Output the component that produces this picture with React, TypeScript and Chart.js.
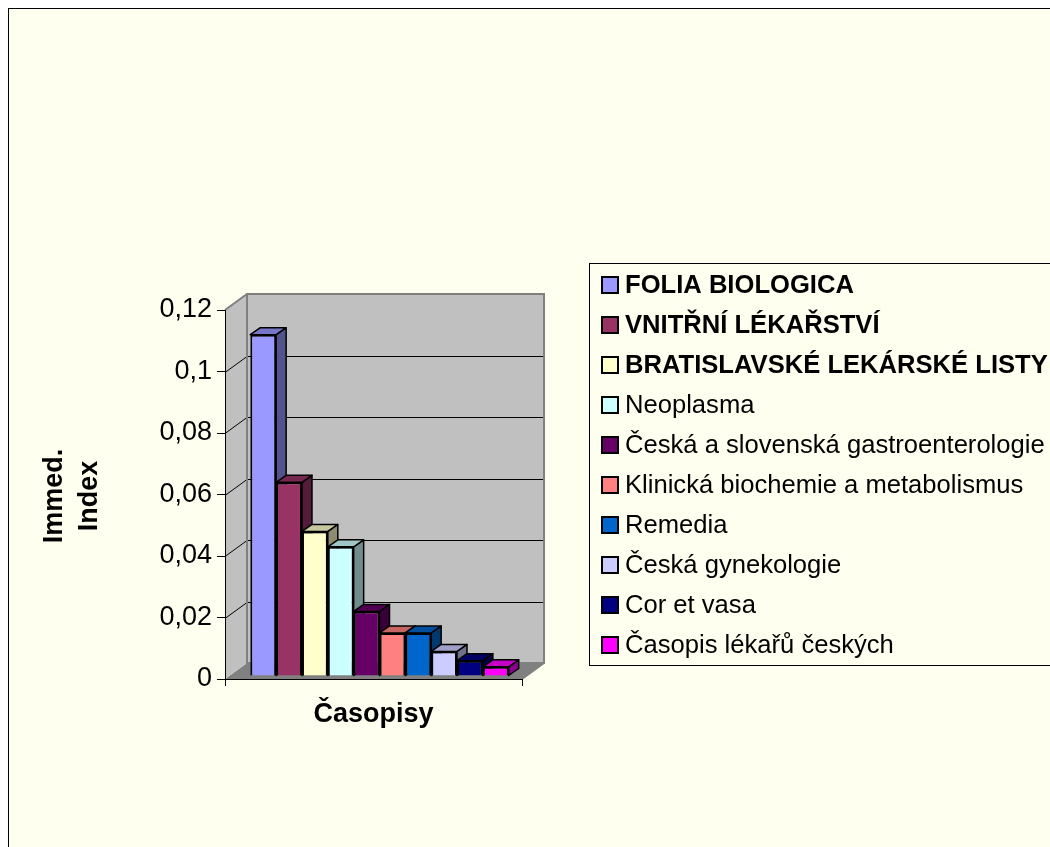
import React, { useEffect, useRef } from 'react';
import { Chart, registerables } from 'chart.js';

Chart.register(...registerables);

// ---------- data ----------
const categories = ['Časopisy'];
const journals = [
  'FOLIA BIOLOGICA',
  'VNITŘNÍ LÉKAŘSTVÍ',
  'BRATISLAVSKÉ LEKÁRSKÉ LISTY',
  'Neoplasma',
  'Česká a slovenská gastroenterologie',
  'Klinická biochemie a metabolismus',
  'Remedia',
  'Česká gynekologie',
  'Cor et vasa',
  'Časopis lékařů českých',
];
const immedIndex = [0.111, 0.063, 0.047, 0.042, 0.021, 0.014, 0.014, 0.008, 0.005, 0.003];
const boldInLegend = [true, true, true, false, false, false, false, false, false, false];
const colors = ['#9999FF', '#993366', '#FFFFCC', '#CCFFFF', '#660066', '#FF8080', '#0066CC', '#CCCCFF', '#000080', '#FF00FF'];
const yMin = 0;
const yMax = 0.12;
const yStep = 0.02;
const yTitle = ['Immed.', 'Index'];
const xTitle = 'Časopisy';

// ---------- styling ----------
const FONT = "'Liberation Sans', Arial, sans-serif";
const W = 1041;
const H = 838;
const WALL = { dx: 22, dy: -16 };
const BAR_DEPTH = { dx: 10, dy: -7 };
const BAR_SHIFT = { dx: 6, dy: -3 };

function shade(hex: string, f: number) {
  const n = parseInt(hex.slice(1), 16);
  const r = Math.round(((n >> 16) & 255) * f);
  const g = Math.round(((n >> 8) & 255) * f);
  const b = Math.round((n & 255) * f);
  return `rgb(${r},${g},${b})`;
}

const fmt = (v: number) => String(Math.round(v * 100) / 100).replace('.', ',');

const threeD = {
  id: 'threeD',
  beforeDraw(chart: any) {
    const { ctx, chartArea: a, scales } = chart;
    const y = scales.y;
    const { dx, dy } = WALL;
    ctx.save();
    // floor
    ctx.fillStyle = '#808080';
    ctx.beginPath();
    ctx.moveTo(a.left, a.bottom);
    ctx.lineTo(a.left + dx, a.bottom + dy);
    ctx.lineTo(a.right + dx, a.bottom + dy);
    ctx.lineTo(a.right, a.bottom);
    ctx.closePath();
    ctx.fill();
    // left wall
    ctx.fillStyle = '#C0C0C0';
    ctx.beginPath();
    ctx.moveTo(a.left, a.bottom);
    ctx.lineTo(a.left, a.top);
    ctx.lineTo(a.left + dx, a.top + dy);
    ctx.lineTo(a.left + dx, a.bottom + dy);
    ctx.closePath();
    ctx.fill();
    // back wall
    ctx.fillRect(a.left + dx, a.top + dy, a.right - a.left, a.bottom - a.top);
    // gridlines
    ctx.strokeStyle = '#000';
    ctx.lineWidth = 1;
    y.ticks.forEach((t: any) => {
      if (t.value <= yMin || t.value >= yMax) return;
      const py = Math.round(y.getPixelForValue(t.value)) + 0.5;
      ctx.beginPath();
      ctx.moveTo(a.left, py);
      ctx.lineTo(a.left + dx, py + dy);
      ctx.lineTo(a.right + dx, py + dy);
      ctx.stroke();
    });
    // wall edges
    ctx.strokeStyle = '#808080';
    ctx.lineWidth = 2;
    ctx.strokeRect(a.left + dx, a.top + dy, a.right - a.left, a.bottom - a.top);
    ctx.beginPath();
    ctx.moveTo(a.left, a.top);
    ctx.lineTo(a.left + dx, a.top + dy);
    ctx.stroke();
    ctx.beginPath();
    ctx.moveTo(a.right, a.bottom);
    ctx.lineTo(a.right + dx, a.bottom + dy);
    ctx.stroke();
    ctx.restore();
  },
  beforeDatasetsDraw(chart: any) {
    const { ctx } = chart;
    const { dx, dy } = BAR_DEPTH;
    ctx.save();
    ctx.translate(BAR_SHIFT.dx, BAR_SHIFT.dy);
    chart.data.datasets.forEach((ds: any, i: number) => {
      const el = chart.getDatasetMeta(i).data[0];
      if (!el) return;
      const { x, y, base, width } = el;
      const l = x - width / 2;
      const r = x + width / 2;
      const c = ds.backgroundColor as string;
      ctx.lineWidth = 1.5;
      ctx.strokeStyle = '#000';
      ctx.lineJoin = 'round';
      // side face
      ctx.fillStyle = shade(c, 0.55);
      ctx.beginPath();
      ctx.moveTo(r, y);
      ctx.lineTo(r + dx, y + dy);
      ctx.lineTo(r + dx, base + dy);
      ctx.lineTo(r, base);
      ctx.closePath();
      ctx.fill();
      ctx.stroke();
      // top face
      ctx.fillStyle = shade(c, 0.78);
      ctx.beginPath();
      ctx.moveTo(l, y);
      ctx.lineTo(l + dx, y + dy);
      ctx.lineTo(r + dx, y + dy);
      ctx.lineTo(r, y);
      ctx.closePath();
      ctx.fill();
      ctx.stroke();
      // front face through the library element
      el.draw(ctx);
    });
    ctx.restore();
    return false;
  },
  afterDraw(chart: any) {
    const { ctx } = chart;
    ctx.save();
    // legend box
    const lx = 580, ly = 254, lh = 402;
    ctx.strokeStyle = '#000';
    ctx.lineWidth = 1;
    ctx.strokeRect(lx + 0.5, ly + 0.5, 700, lh);
    chart.data.datasets.forEach((ds: any, i: number) => {
      const cy = 276 + i * 40;
      ctx.fillStyle = '#000';
      ctx.fillRect(592, cy - 9, 18, 18);
      ctx.fillStyle = ds.backgroundColor;
      ctx.fillRect(594, cy - 7, 14, 14);
      ctx.fillStyle = '#000';
      ctx.font = `${boldInLegend[i] ? 'bold ' : ''}25.6px ${FONT}`;
      ctx.textAlign = 'left';
      ctx.textBaseline = 'middle';
      ctx.fillText(ds.label, 616, cy + 1);
    });
    // axis titles
    ctx.font = `bold 27px ${FONT}`;
    ctx.textAlign = 'center';
    ctx.textBaseline = 'alphabetic';
    const xs = chart.scales.x;
    ctx.fillText(xTitle, (xs.left + xs.right) / 2, 712.5);
    const baselines = [52.7, 87.7];
    yTitle.forEach((t, i) => {
      ctx.save();
      ctx.translate(baselines[i], 487);
      ctx.rotate(-Math.PI / 2);
      ctx.fillText(t, 0, 0);
      ctx.restore();
    });
    ctx.restore();
  },
};

export default function App() {
  const ref = useRef<HTMLCanvasElement>(null);
  useEffect(() => {
    const canvas = ref.current!;
    const chart = new Chart(canvas, {
      type: 'bar',
      data: {
        labels: categories,
        datasets: journals.map((name, i) => ({
          label: name,
          data: [immedIndex[i]],
          backgroundColor: colors[i],
          borderColor: '#000',
          borderWidth: 2,
          barPercentage: 1,
          categoryPercentage: 0.87,
        })),
      },
      options: {
        animation: false,
        responsive: false,
        devicePixelRatio: 1,
        layout: { padding: { left: 116, right: 528, top: 301, bottom: 138 } },
        plugins: { legend: { display: false }, tooltip: { enabled: false }, title: { display: false } },
        scales: {
          x: {
            type: 'category',
            afterFit: (s: any) => { s.height = 30; },
            ticks: { display: false },
            grid: { offset: true, drawOnChartArea: false, drawTicks: true, tickLength: 7, color: '#000' },
            border: { display: true, color: '#000', width: 1 },
          },
          y: {
            min: yMin,
            max: yMax,
            afterFit: (s: any) => { s.width = 100; },
            ticks: {
              stepSize: yStep,
              padding: 5,
              color: '#000',
              font: { family: FONT, size: 27 },
              callback: (v: any) => fmt(Number(v)),
            },
            grid: { drawOnChartArea: false, drawTicks: true, tickLength: 8, color: '#000' },
            border: { display: true, color: '#000', width: 1 },
          },
        },
      },
      plugins: [threeD],
    });
    return () => chart.destroy();
  }, []);
  return (
    <div
      style={{
        position: 'absolute',
        left: 8,
        top: 8,
        right: 0,
        bottom: 0,
        overflow: 'hidden',
        borderLeft: '1px solid #000',
        borderTop: '1px solid #000',
        background: '#FFFFF0',
      }}
    >
      <canvas ref={ref} width={W} height={H} style={{ display: 'block', width: W, height: H }} />
    </div>
  );
}
